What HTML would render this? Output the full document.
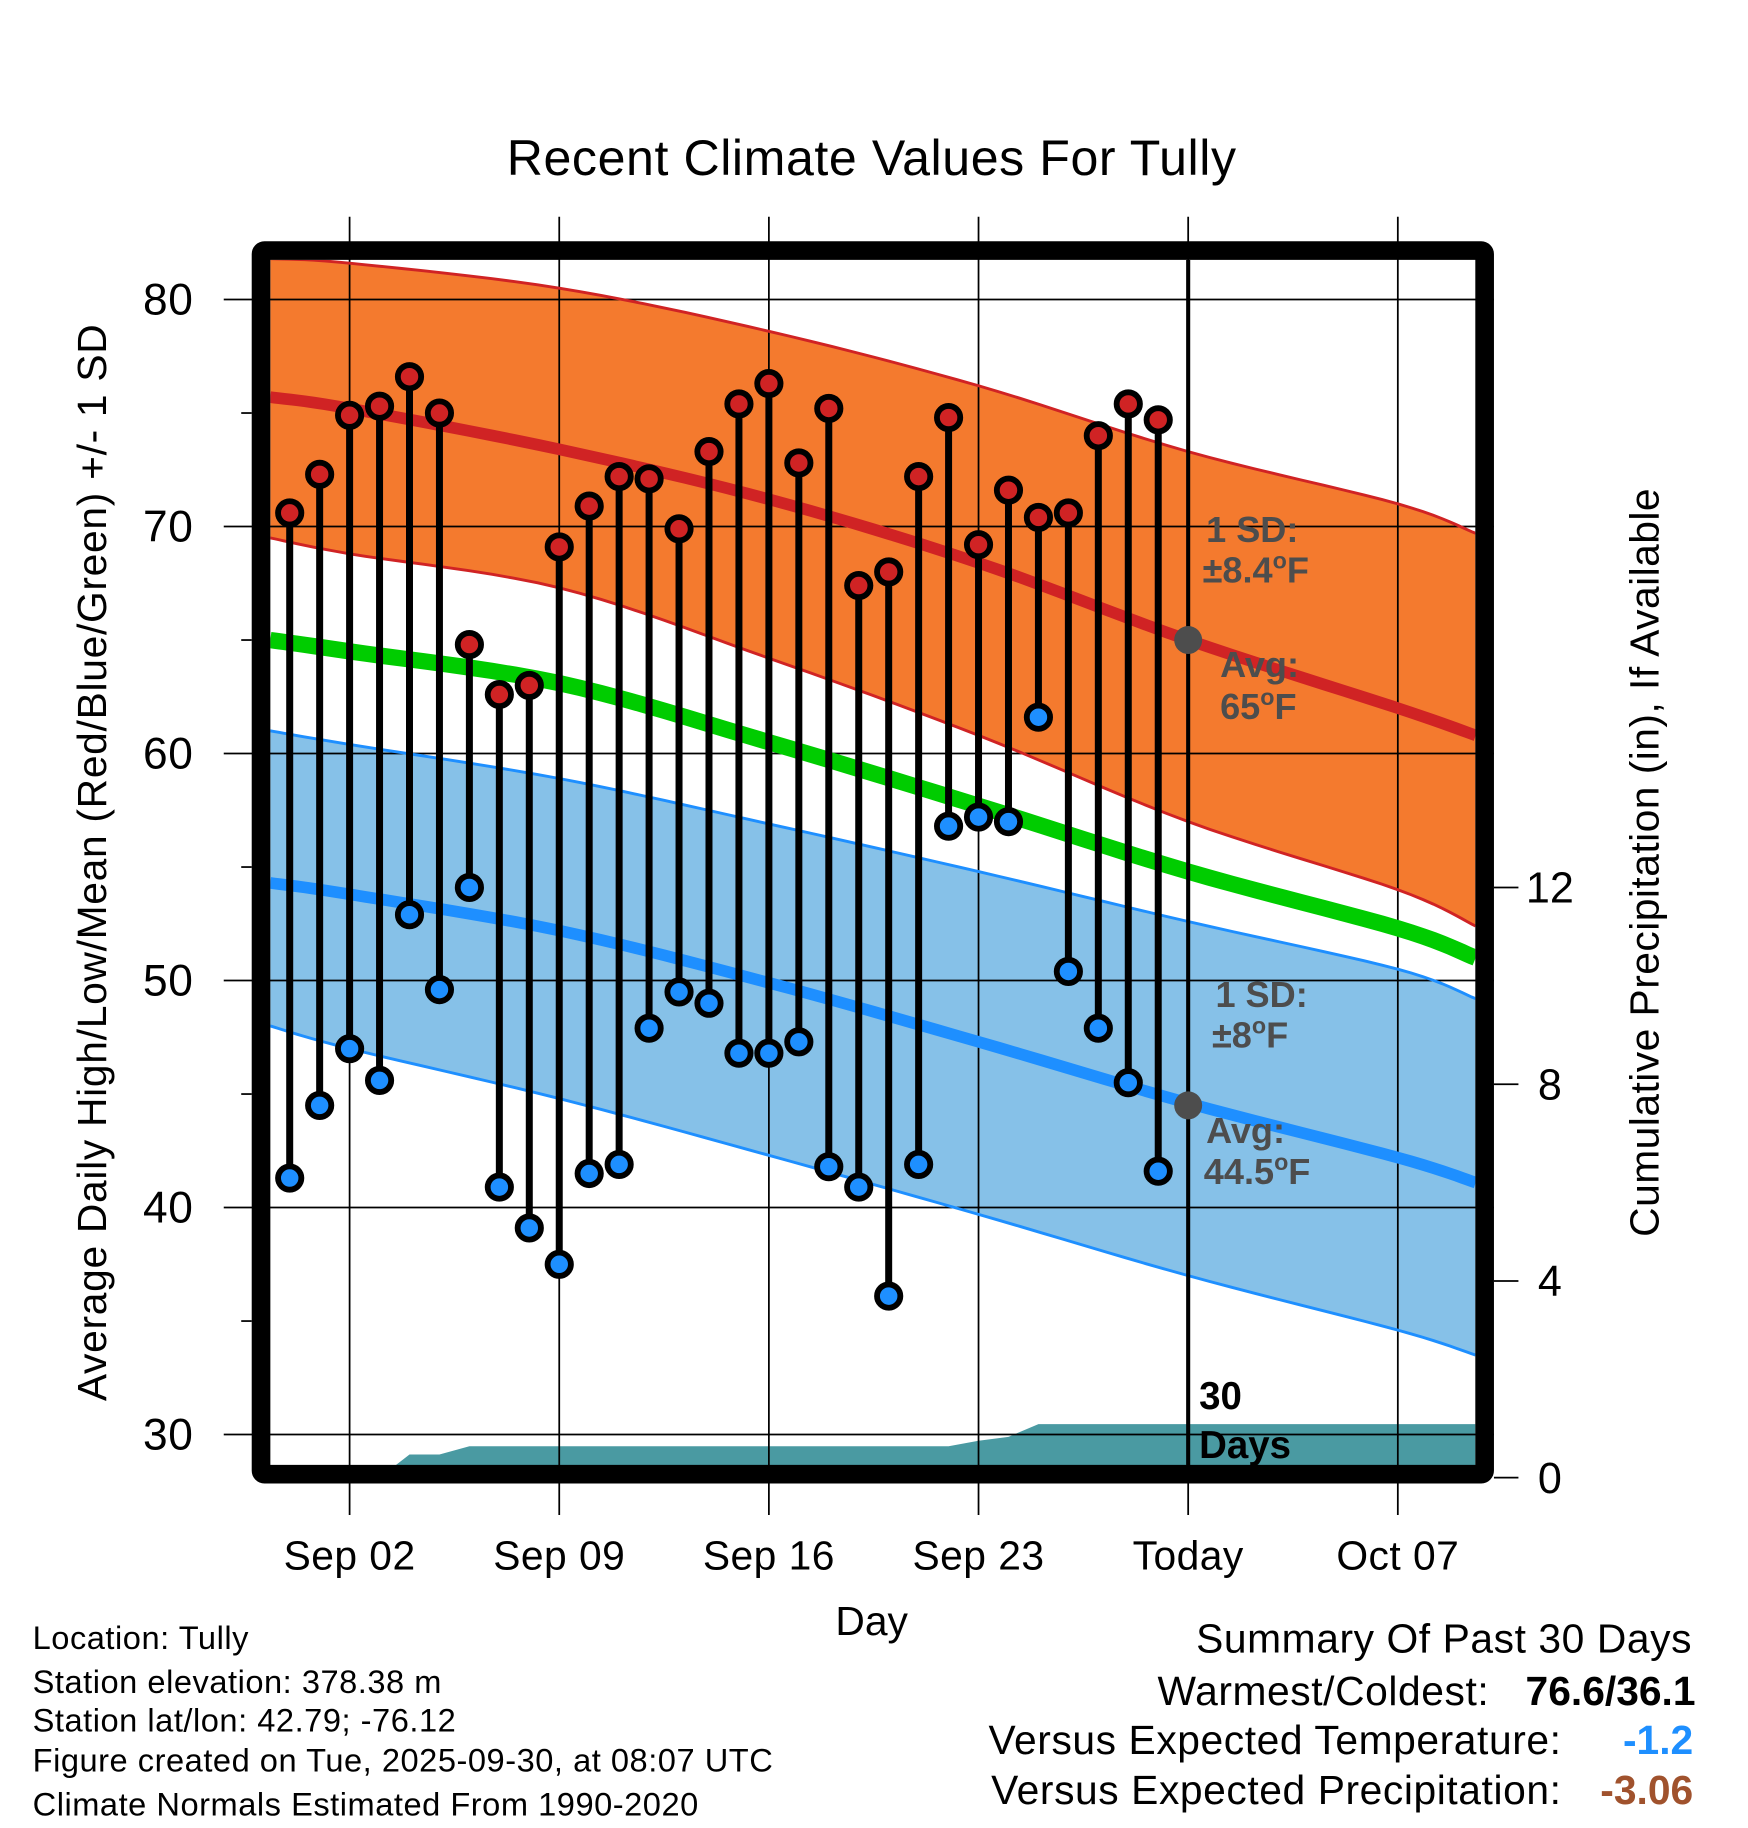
<!DOCTYPE html>
<html><head><meta charset="utf-8"><style>
html,body{margin:0;padding:0;background:#fff}
svg{display:block}
text{font-family:"Liberation Sans",sans-serif}
</style></head><body>
<svg id="chart" width="1748" height="1828" viewBox="0 0 1500 1568.6" xmlns="http://www.w3.org/2000/svg">
<defs><clipPath id="plotclip"><rect x="232" y="223" width="1034" height="1037"/></clipPath></defs>
<g id="fills" clip-path="url(#plotclip)"></g>
<g id="grid"></g>
<g id="lines" clip-path="url(#plotclip)"></g>
<g id="marks"></g>
<g id="frame"></g>
<g id="labels"></g>
</svg>
<script>
// ---- data ----
const dayLabels = ["Sep 02","Sep 09","Sep 16","Sep 23","Today","Oct 07"];
const dayLabelOffsets = [0,7,14,21,28,35];
const obsDays = [-2,-1,0,1,2,3,4,5,6,7,8,9,10,11,12,13,14,15,16,17,18,19,20,21,22,23,24,25,26,27];
const highs = [70.6,72.3,74.9,75.3,76.6,75.0,64.8,62.6,63.0,69.1,70.9,72.2,72.1,69.9,73.3,75.4,76.3,72.8,75.2,67.4,68.0,72.2,74.8,69.2,71.6,70.4,70.6,74.0,75.4,74.7];
const lows = [41.3,44.5,47.0,45.6,52.9,49.6,54.1,40.9,39.1,37.5,41.5,41.9,47.9,49.5,49.0,46.8,46.8,47.3,41.8,40.9,36.1,41.9,56.8,57.2,57.0,61.6,50.4,47.9,45.5,41.6];
const precip = [0,0,0,0,0.47,0.47,0.64,0.64,0.64,0.64,0.64,0.64,0.64,0.64,0.64,0.64,0.64,0.64,0.64,0.64,0.64,0.64,0.64,0.75,0.83,1.09,1.09,1.09,1.09,1.09];
const normDays = [-2.65,0,7,14,21,28,35,37.6];
const normHigh = [75.7,75.2,73.4,71.2,68.4,65.0,62.0,60.8];
const normHighUp = [81.8,81.6,80.5,78.6,76.2,73.3,71.0,69.7];
const normHighDn = [69.5,68.8,67.3,64.2,60.8,57.0,54.0,52.4];
const normMean = [65.0,64.5,63.1,60.5,57.7,54.8,52.3,51.0];
const normLow = [54.3,53.8,52.2,49.9,47.3,44.6,42.2,41.1];
const normLowUp = [61.0,60.4,58.9,56.9,54.8,52.6,50.5,49.2];
const normLowDn = [48.0,47.0,44.8,42.3,39.7,37.0,34.6,33.5];
const yTicks = [30,40,50,60,70,80];
const pTicks = [0,4,8,12];

// ---- axes ----
const X = d => 300 + d*25.7;
const Y = v => 257 + (80-v)*19.48;
const P = p => 1268 - p*42.2;
const NS='http://www.w3.org/2000/svg';
function mk(parent,tag,attrs,txt){const e=document.createElementNS(NS,tag);for(const k in attrs)e.setAttribute(k,attrs[k]);if(txt!==undefined)e.textContent=txt;document.getElementById(parent).appendChild(e);return e;}
function smooth(vals){ // catmull-rom sampled points
  const p=normDays.map((d,i)=>[X(d),Y(vals[i])]);const out=[];
  for(let i=0;i<p.length-1;i++){const p0=p[Math.max(0,i-1)],p1=p[i],p2=p[i+1],p3=p[Math.min(p.length-1,i+2)];
    for(let t=0;t<1;t+=0.1){const t2=t*t,t3=t2*t;
      const f=(a,b,c,d)=>0.5*((2*b)+(-a+c)*t+(2*a-5*b+4*c-d)*t2+(-a+3*b-3*c+d)*t3);
      out.push([f(p0[0],p1[0],p2[0],p3[0]),f(p0[1],p1[1],p2[1],p3[1])]);}}
  out.push(p[p.length-1]);return out;}
function pts(vals){return smooth(vals).map(q=>q[0]+','+q[1]).join(' ');}
function band(up,dn){return smooth(up).concat(smooth(dn).reverse()).map(q=>q[0]+','+q[1]).join(' ');}

let e;
e=mk('fills','polygon',{points:band(normHighUp,normHighDn),fill:'#f47a2e'});


e=mk('fills','polygon',{points:band(normLowUp,normLowDn),fill:'#86c1e8'});


// precip
let pp=[X(obsDays[0])+','+P(0)];
obsDays.forEach((d,i)=>{pp.push(X(d)+','+P(precip[i]));});
pp.push(X(40)+','+P(precip[precip.length-1]));pp.push(X(40)+','+P(0));
e=mk('fills','polygon',{points:pp.join(' '),fill:'#4a9aa2'});



// grid
yTicks.forEach(v=>{e=mk('grid','line',{x1:192,x2:1282,y1:Y(v),y2:Y(v),stroke:'#000','stroke-width':1.5});

});
[35,45,55,65,75].forEach(v=>{mk('grid','line',{x1:207,x2:216,y1:Y(v),y2:Y(v),stroke:'#000','stroke-width':1.5});});
dayLabelOffsets.forEach(d=>{e=mk('grid','line',{x1:X(d),x2:X(d),y1:186,y2:1300,stroke:'#000','stroke-width':1.5});

});
pTicks.forEach(p=>{mk('grid','line',{x1:1282,x2:1303,y1:P(p),y2:P(p),stroke:'#000','stroke-width':1.5});});

// lines
[[normHighUp,'#d02324',2.5,'high-sd-upper'],[normHighDn,'#d02324',2.5,'high-sd-lower'],[normLowUp,'#1e8fff',2.5,'low-sd-upper'],[normLowDn,'#1e8fff',2.5,'low-sd-lower'],[normHigh,'#d02324',10,'avg-high-line'],[normMean,'#00cc00',14,'avg-mean-line'],[normLow,'#1e8fff',10,'avg-low-line']].forEach(a=>{
e=mk('lines','polyline',{points:pts(a[0]),fill:'none',stroke:a[1],'stroke-width':a[2]});

});
e=mk('lines','line',{x1:X(28),x2:X(28),y1:223,y2:1262,stroke:'#000','stroke-width':3.5});


e=mk('lines','circle',{cx:X(28),cy:Y(65),r:12,fill:'#4d4d4d'});


e=mk('lines','circle',{cx:X(28),cy:Y(44.5),r:12,fill:'#4d4d4d'});



// marks
obsDays.forEach((d,i)=>{
 e=mk('marks','line',{x1:X(d),x2:X(d),y1:Y(highs[i]),y2:Y(lows[i]),stroke:'#000','stroke-width':6});
 
 
 e=mk('marks','circle',{cx:X(d),cy:Y(highs[i]),r:10,fill:'#d02324',stroke:'#000','stroke-width':5});
 
 
 e=mk('marks','circle',{cx:X(d),cy:Y(lows[i]),r:10,fill:'#1e8fff',stroke:'#000','stroke-width':5});
 
 
});

// frame
e=mk('frame','rect',{x:224,y:215,width:1050,height:1050,fill:'none',stroke:'#000','stroke-width':16,rx:3});



// labels
yTicks.forEach(v=>{e=mk('labels','text',{x:166,y:Y(v)+13,'text-anchor':'end','font-size':38,'letter-spacing':'0.5'},String(v));

});
pTicks.forEach(p=>{e=mk('labels','text',{x:1330,y:P(p)+13,'text-anchor':'middle','font-size':37},String(p));

});
dayLabels.forEach((l,i)=>{e=mk('labels','text',{x:X(dayLabelOffsets[i]),y:1347,'text-anchor':'middle','font-size':35,'letter-spacing':'0.4'},l);

});
</script>
<script>
function T(name,attrs,html){const e=document.createElementNS('http://www.w3.org/2000/svg','text');for(const k in attrs)e.setAttribute(k,attrs[k]);e.innerHTML=html;document.getElementById('labels').appendChild(e);


return e;}
T('chart-title',{x:748,y:150,'text-anchor':'middle','font-size':43,'letter-spacing':'0.5'},'Recent Climate Values For Tully');
T('x-axis-title',{x:748,y:1403,'text-anchor':'middle','font-size':35},'Day');
T('y-axis-title',{x:0,y:0,'text-anchor':'middle','font-size':35,'letter-spacing':'0.6',transform:'translate(91,740) rotate(-90)'},'Average Daily High/Low/Mean (Red/Blue/Green) +/- 1 SD');
T('precip-axis-title',{x:0,y:0,'text-anchor':'middle','font-size':35,'letter-spacing':'0.4',transform:'translate(1423,740) rotate(-90)'},'Cumulative Precipitation (in), If Available');
const g='#4d4d4d';
T('high-sd-label',{x:1035,y:465,'font-size':31,'font-weight':'bold',fill:g},'1 SD:');
T('high-sd-value',{x:1032,y:500,'font-size':31,'font-weight':'bold',fill:g},'±8.4<tspan dy="-12" font-size="20">o</tspan><tspan dy="12">F</tspan>');
T('high-avg-label',{x:1047,y:581,'font-size':31,'font-weight':'bold',fill:g},'Avg:');
T('high-avg-value',{x:1047,y:617,'font-size':31,'font-weight':'bold',fill:g},'65<tspan dy="-12" font-size="20">o</tspan><tspan dy="12">F</tspan>');
T('low-sd-label',{x:1043,y:864,'font-size':31,'font-weight':'bold',fill:g},'1 SD:');
T('low-sd-value',{x:1040,y:899,'font-size':31,'font-weight':'bold',fill:g},'±8<tspan dy="-12" font-size="20">o</tspan><tspan dy="12">F</tspan>');
T('low-avg-label',{x:1035,y:981,'font-size':31,'font-weight':'bold',fill:g},'Avg:');
T('low-avg-value',{x:1033,y:1016,'font-size':31,'font-weight':'bold',fill:g},'44.5<tspan dy="-12" font-size="20">o</tspan><tspan dy="12">F</tspan>');
T('precip-days-label',{x:1029,y:1209,'font-size':33,'font-weight':'bold'},'30');
T('precip-days-label-2',{x:1029,y:1251,'font-size':33,'font-weight':'bold'},'Days');
const info=['Location: Tully','Station elevation: 378.38 m','Station lat/lon: 42.79; -76.12','Figure created on Tue, 2025-09-30, at 08:07 UTC','Climate Normals Estimated From 1990-2020'];
const iy=[1415,1453,1486,1520,1558];
info.forEach((t,i)=>T('station-info-line',{x:28,y:iy[i],'font-size':28,'letter-spacing':'0.45'},t));
T('summary-title',{x:1452,y:1418,'text-anchor':'end','font-size':35,'letter-spacing':'0.5'},'Summary Of Past 30 Days');
T('warmest-coldest-label',{x:1278,y:1463,'text-anchor':'end','font-size':35,'letter-spacing':'0.5'},'Warmest/Coldest:');
T('warmest-coldest-value',{x:1455,y:1463,'text-anchor':'end','font-size':35,'font-weight':'bold'},'76.6/36.1');
T('temp-departure-label',{x:1340,y:1505,'text-anchor':'end','font-size':35,'letter-spacing':'0.5'},'Versus Expected Temperature:');
T('temp-departure-value',{x:1453,y:1505,'text-anchor':'end','font-size':35,'font-weight':'bold',fill:'#1e8fff'},'-1.2');
T('precip-departure-label',{x:1340,y:1548,'text-anchor':'end','font-size':35,'letter-spacing':'0.5'},'Versus Expected Precipitation:');
T('precip-departure-value',{x:1453,y:1548,'text-anchor':'end','font-size':35,'font-weight':'bold',fill:'#a0522d'},'-3.06');
</script>
</body></html>
